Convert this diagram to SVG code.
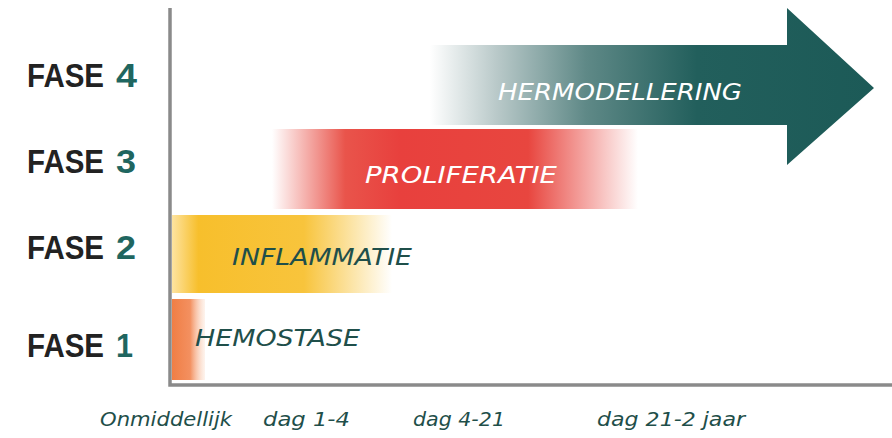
<svg xmlns="http://www.w3.org/2000/svg" width="892" height="438" viewBox="0 0 892 438">
<defs>
<linearGradient id="gHemo" x1="0" y1="0" x2="1" y2="0">
<stop offset="0" stop-color="#f07e45"/>
<stop offset="0.55" stop-color="#f39060"/>
<stop offset="1" stop-color="#fbd9c4" stop-opacity="0.3"/>
</linearGradient>
<linearGradient id="gInfl" x1="0" y1="0" x2="1" y2="0">
<stop offset="0" stop-color="#fde3a0"/>
<stop offset="0.12" stop-color="#f7bf2c"/>
<stop offset="0.6" stop-color="#f8c43c"/>
<stop offset="1" stop-color="#ffffff"/>
</linearGradient>
<linearGradient id="gProl" x1="0" y1="0" x2="1" y2="0">
<stop offset="0" stop-color="#ffffff"/>
<stop offset="0.2" stop-color="#e9544b"/>
<stop offset="0.35" stop-color="#e8403d"/>
<stop offset="0.7" stop-color="#e8463f"/>
<stop offset="1" stop-color="#ffffff"/>
</linearGradient>
<linearGradient id="gHerm" gradientUnits="userSpaceOnUse" x1="430" y1="0" x2="875" y2="0">
<stop offset="0" stop-color="#ffffff"/>
<stop offset="0.15" stop-color="#b9c9c9"/>
<stop offset="0.35" stop-color="#5f8987"/>
<stop offset="0.6" stop-color="#225f5c"/>
<stop offset="1" stop-color="#1c5a57"/>
</linearGradient>
<style>
.fase{font-family:"Liberation Sans",Arial,sans-serif;font-weight:bold;font-size:34px;fill:#222}
.num{fill:#1f6660}
.hand{font-family:"DejaVu Sans","Liberation Sans",sans-serif;font-style:italic;font-size:23px}
.dark{fill:#1f4f4a}
.light{fill:#ffffff}
.time{font-family:"DejaVu Sans","Liberation Sans",sans-serif;font-style:italic;font-size:19px;fill:#1f4f4a}
.axis{stroke:#8a8a8a;stroke-width:3.5;fill:none}
</style>
</defs>
<rect width="892" height="438" fill="#ffffff"/>
<g id="labels">
<text class="fase" x="27" y="87" textLength="77" lengthAdjust="spacingAndGlyphs">FASE</text>
<text class="fase num" x="116" y="87" textLength="21" lengthAdjust="spacingAndGlyphs">4</text>
<text class="fase" x="27" y="173" textLength="77" lengthAdjust="spacingAndGlyphs">FASE</text>
<text class="fase num" x="116" y="173" textLength="20" lengthAdjust="spacingAndGlyphs">3</text>
<text class="fase" x="27" y="259" textLength="77" lengthAdjust="spacingAndGlyphs">FASE</text>
<text class="fase num" x="116" y="259" textLength="20" lengthAdjust="spacingAndGlyphs">2</text>
<text class="fase" x="27" y="357" textLength="77" lengthAdjust="spacingAndGlyphs">FASE</text>
<text class="fase num" x="116" y="357" textLength="17" lengthAdjust="spacingAndGlyphs">1</text>
</g>
<g id="fase4">
<path d="M430 45 H787 V8 L874 88 L787 165 V125 H430 Z" fill="url(#gHerm)"/>
<text class="hand light" x="498" y="100" textLength="244" lengthAdjust="spacingAndGlyphs">HERMODELLERING</text>
</g>
<g id="fase3">
<rect x="272" y="129" width="366" height="80" fill="url(#gProl)"/>
<text class="hand light" x="365" y="183" textLength="192" lengthAdjust="spacingAndGlyphs">PROLIFERATIE</text>
</g>
<g id="fase2">
<rect x="172" y="215" width="220" height="78" fill="url(#gInfl)"/>
<text class="hand dark" x="232" y="265" textLength="180" lengthAdjust="spacingAndGlyphs">INFLAMMATIE</text>
</g>
<g id="fase1">
<rect x="172" y="299" width="33" height="81" fill="url(#gHemo)"/>
<text class="hand dark" x="195" y="346" textLength="165" lengthAdjust="spacingAndGlyphs">HEMOSTASE</text>
</g>
<g id="connectors">
<path class="axis" d="M170 8 V385 H892"/>
</g>
<g id="timeline">
<text class="time" x="100" y="426" textLength="132" lengthAdjust="spacingAndGlyphs">Onmiddellijk</text>
<text class="time" x="263" y="426" textLength="87" lengthAdjust="spacingAndGlyphs">dag 1-4</text>
<text class="time" x="413" y="426" textLength="92" lengthAdjust="spacingAndGlyphs">dag 4-21</text>
<text class="time" x="597" y="426" textLength="148" lengthAdjust="spacingAndGlyphs">dag 21-2 jaar</text>
</g>
</svg>
